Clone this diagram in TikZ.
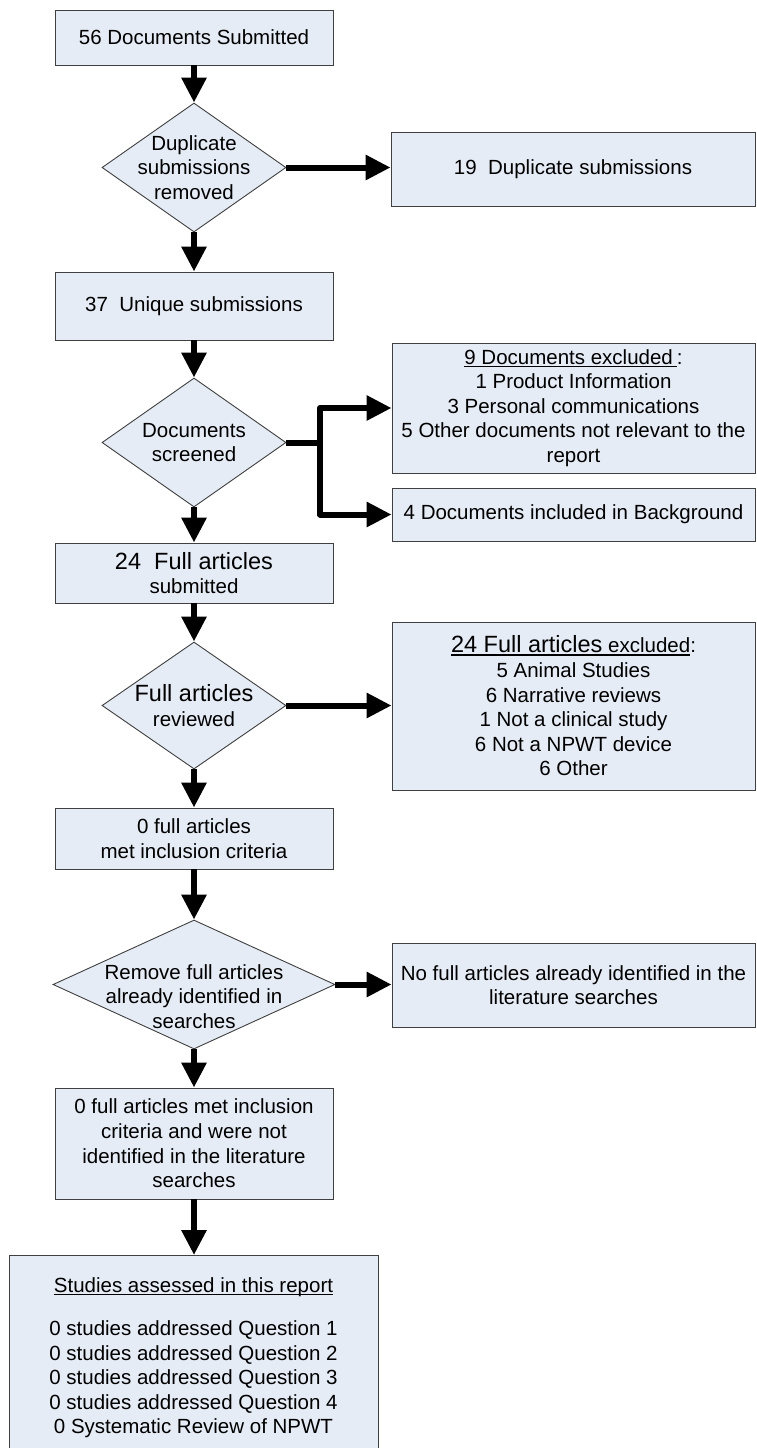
\documentclass[tikz,border=0pt]{standalone}
\usepackage{fontspec}
\setmainfont{Liberation Sans}
\usetikzlibrary{shapes.geometric,arrows.meta}

\definecolor{boxfill}{RGB}{230,236,246}
\definecolor{boxline}{RGB}{64,64,64}

% underline with a fixed offset below the baseline
\newsavebox\ulbox
\newcommand\uline[1]{\sbox\ulbox{#1}\rlap{\rule[-2.6pt]{\wd\ulbox}{1.2pt}}\usebox\ulbox}
\newcommand\bigtxt{\fontsize{23.5}{24.6}\selectfont}

\begin{document}
\begin{tikzpicture}[x=1pt,y=-1pt,
  every node/.style={font=\fontsize{20.5}{24.6}\selectfont, align=center, inner sep=0pt},
  box/.style={rectangle, draw=boxline, line width=0.9pt, fill=boxfill},
  dia/.style={diamond, draw=boxline, line width=0.9pt, fill=boxfill},
  flow/.style={line width=6pt, -{Triangle[width=24pt,length=25pt]}, line join=round}]

\useasboundingbox (0,0) rectangle (756,1448);
\fill[white] (0,0) rectangle (756,1448);

% main column
\node[box, minimum width=278pt, minimum height=55pt] (b1) at (194,37.5) {56 Documents Submitted};
\node[dia, minimum width=184pt, minimum height=129pt,
      label={center:Duplicate\\submissions\\removed}] (d1) at (194,167.5) {};
\node[box, minimum width=278pt, minimum height=68pt] (b2) at (194,306) {37~~Unique submissions};
\node[dia, minimum width=184pt, minimum height=129pt,
      label={center:Documents\\screened}] (d2) at (194,442.5) {};
\node[box, minimum width=278pt, minimum height=60pt] (b3) at (194,573) {{\bigtxt 24~~Full articles}\\submitted};
\node[dia, minimum width=184pt, minimum height=127pt,
      label={center:{\bigtxt Full articles}\\reviewed}] (d3) at (194,705.5) {};
\node[box, minimum width=278pt, minimum height=61pt] (b4) at (194,838.5) {0 full articles\\met inclusion criteria};
\node[dia, minimum width=282pt, minimum height=129pt,
      label={[yshift=-12pt]center:Remove full articles\\already identified in\\searches}] (d4) at (194,984.5) {};
\node[box, minimum width=278pt, minimum height=111pt] (b5) at (194,1143.5)
  {0 full articles met inclusion\\criteria and were not\\identified in the literature\\searches};
\node[box, anchor=north, minimum width=369pt, inner ysep=22pt] (b6) at (193.5,1255)
  {\uline{Studies assessed in this report}\\[18.5pt]
   0 studies addressed Question 1\\
   0 studies addressed Question 2\\
   0 studies addressed Question 3\\
   0 studies addressed Question 4\\
   0 Systematic Review of NPWT};

% side column
\node[box, minimum width=364pt, minimum height=74pt] (r1) at (573,169) {19~~Duplicate submissions};
\node[box, minimum width=363pt, minimum height=130pt] (r2) at (573.5,408)
  {\uline{9 Documents excluded\kern4pt}:\\1 Product Information\\3 Personal communications\\5 Other documents not relevant to the\\report};
\node[box, minimum width=363pt, minimum height=53pt] (r3) at (573.5,514.5) {4 Documents included in Background};
\node[box, minimum width=363pt, minimum height=168pt] (r4) at (573.5,706)
  {\uline{{\bigtxt 24 Full articles} excluded}:\\5 Animal Studies\\6 Narrative reviews\\1 Not a clinical study\\6 Not a NPWT device\\6 Other};
\node[box, minimum width=363pt, minimum height=84pt] (r5) at (573.5,985)
  {No full articles already identified in the\\literature searches};

\coordinate (jn) at (320,442.5);

% connectors
\draw[flow] (b1) -- (d1);
\draw[flow] (d1.east) -- (d1.east -| r1.west);
\draw[flow] (d1) -- (b2);
\draw[flow] (b2) -- (d2);
\draw[flow] (d2.east) -- (jn) |- (r2.west);
\draw[flow] (jn) |- (r3.west);
\draw[flow] (d2) -- (b3);
\draw[flow] (b3) -- (d3);
\draw[flow] (d3.east) -- (d3.east -| r4.west);
\draw[flow] (d3) -- (b4);
\draw[flow] (b4) -- (d4);
\draw[flow] (d4.east) -- (d4.east -| r5.west);
\draw[flow] (d4) -- (b5);
\draw[flow] (b5.south) -- (b5.south |- b6.north);
\end{tikzpicture}
\end{document}
